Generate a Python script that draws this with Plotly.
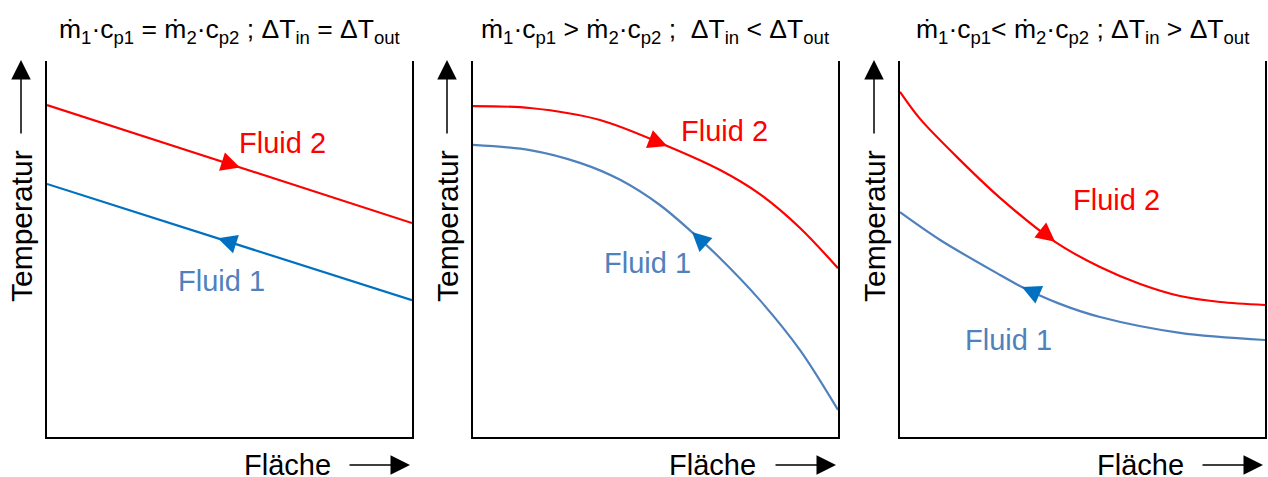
import numpy as np
import plotly.graph_objects as go

W, H = 1268, 477

# Fläche (x) und Temperatur (y), jeweils normiert auf 0..10
p1_x_hot = [0, 10]
p1_y_hot = [8.83, 5.69]
p1_x_cold = [0, 10]
p1_y_cold = [6.73, 3.64]

p2_x_hot = [0, 1.56, 3.48, 5.32, 6.77, 7.86, 8.96, 10]
p2_y_hot = [8.80, 8.75, 8.43, 7.74, 7.10, 6.46, 5.56, 4.49]
p2_x_cold = [0, 1.56, 2.93, 4.03, 5.12, 6.00, 6.68, 7.86, 8.96, 10]
p2_y_cold = [7.77, 7.63, 7.29, 6.84, 6.17, 5.45, 4.84, 3.64, 2.31, 0.72]

p3_x_hot = [0, 0.55, 1.64, 2.74, 4.25, 5.48, 6.58, 7.67, 8.77, 10]
p3_y_hot = [9.18, 8.46, 7.37, 6.36, 5.19, 4.52, 4.07, 3.75, 3.59, 3.51]
p3_x_cold = [0, 1.10, 2.74, 3.34, 4.38, 5.48, 7.67, 10]
p3_y_cold = [5.98, 5.24, 4.31, 3.99, 3.54, 3.19, 2.77, 2.58]

# Position der Richtungspfeile (Fläche-Wert) je Fluid
arrow_hot_x = [5.29, 5.32, 4.25]
arrow_cold_x = [4.68, 6.00, 3.34]

# Beschriftung der Fluide (Fläche, Temperatur)
label_hot = [(6.44, 7.82), (6.88, 8.14), (5.92, 6.30)]
label_cold = [(4.77, 4.15), (4.77, 4.63), (2.96, 2.58)]

titles = [
    "ṁ<sub>1</sub>·c<sub>p1</sub> = ṁ<sub>2</sub>·c<sub>p2</sub> ; ΔT<sub>in</sub> = ΔT<sub>out</sub>",
    "ṁ<sub>1</sub>·c<sub>p1</sub> > ṁ<sub>2</sub>·c<sub>p2</sub> ;  ΔT<sub>in</sub> < ΔT<sub>out</sub>",
    "ṁ<sub>1</sub>·c<sub>p1</sub>< ṁ<sub>2</sub>·c<sub>p2</sub> ; ΔT<sub>in</sub> > ΔT<sub>out</sub>",
]

RED = "#FF0000"
BLUE_DARK = "#0070C0"
BLUE = "#4F81BD"
FONT = "Liberation Sans, Arial, sans-serif"

# Pixel-Lage der drei Diagrammfelder (links, rechts), oben/unten gemeinsam
panels_px = [(47, 412), (473, 838), (900, 1265)]
top_px, bottom_px = 61, 437

hot = [(p1_x_hot, p1_y_hot), (p2_x_hot, p2_y_hot), (p3_x_hot, p3_y_hot)]
cold = [(p1_x_cold, p1_y_cold), (p2_x_cold, p2_y_cold), (p3_x_cold, p3_y_cold)]
cold_line_colors = [BLUE_DARK, BLUE, BLUE]

fig = go.Figure()
annotations = []

for i in range(3):
    sfx = "" if i == 0 else str(i + 1)
    xref, yref = "x" + sfx, "y" + sfx
    hx, hy = hot[i]
    cx, cy = cold[i]
    fig.add_trace(go.Scatter(x=hx, y=hy, mode="lines", xaxis=xref, yaxis=yref,
                             line=dict(color=RED, width=2.2, shape="spline", smoothing=0.9),
                             showlegend=False, hoverinfo="skip"))
    fig.add_trace(go.Scatter(x=cx, y=cy, mode="lines", xaxis=xref, yaxis=yref,
                             line=dict(color=cold_line_colors[i], width=2.2, shape="spline", smoothing=0.9),
                             showlegend=False, hoverinfo="skip"))

    # Fluid 2 strömt in Richtung wachsender Fläche, Fluid 1 entgegengesetzt
    ax_h = arrow_hot_x[i]
    tail_h = ax_h - 0.3
    annotations.append(dict(x=ax_h, y=float(np.interp(ax_h, hx, hy)),
                            ax=tail_h, ay=float(np.interp(tail_h, hx, hy)),
                            xref=xref, yref=yref, axref=xref, ayref=yref,
                            text="", showarrow=True, arrowhead=2, arrowsize=1.9,
                            arrowwidth=2, arrowcolor=RED, standoff=0))
    ax_c = arrow_cold_x[i]
    tail_c = ax_c + 0.3
    annotations.append(dict(x=ax_c, y=float(np.interp(ax_c, cx, cy)),
                            ax=tail_c, ay=float(np.interp(tail_c, cx, cy)),
                            xref=xref, yref=yref, axref=xref, ayref=yref,
                            text="", showarrow=True, arrowhead=2, arrowsize=1.9,
                            arrowwidth=2, arrowcolor=BLUE_DARK, standoff=0))

    annotations.append(dict(x=label_hot[i][0], y=label_hot[i][1], xref=xref, yref=yref,
                            text="Fluid 2", showarrow=False,
                            font=dict(family=FONT, size=29, color=RED)))
    annotations.append(dict(x=label_cold[i][0], y=label_cold[i][1], xref=xref, yref=yref,
                            text="Fluid 1", showarrow=False,
                            font=dict(family=FONT, size=29, color=BLUE)))

    left, right = panels_px[i]
    # Titel
    annotations.append(dict(x=(left + right) / 2 / W, y=(H - 31) / H,
                            xref="paper", yref="paper", text=titles[i], showarrow=False,
                            xanchor="center", yanchor="middle",
                            font=dict(family=FONT, size=26.5, color="black")))
    # Temperatur-Achse: Pfeil und Text
    tx = (left - 26) / W
    annotations.append(dict(x=tx, y=(H - 60) / H, xref="paper", yref="paper",
                            ax=0, ay=75, text="", showarrow=True, arrowhead=2,
                            arrowsize=2.6, arrowwidth=1.5, arrowcolor="black", standoff=0))
    annotations.append(dict(x=tx, y=(H - 226) / H, xref="paper", yref="paper",
                            text="Temperatur", textangle=-90, showarrow=False,
                            xanchor="center", yanchor="middle",
                            font=dict(family=FONT, size=30, color="black")))
    # Fläche-Achse: Text und Pfeil
    annotations.append(dict(x=(right - 2) / W, y=(H - 465) / H, xref="paper", yref="paper",
                            ax=-62, ay=0, text="", showarrow=True, arrowhead=2,
                            arrowsize=2.6, arrowwidth=1.5, arrowcolor="black", standoff=0))
    annotations.append(dict(x=(right - 125) / W, y=(H - 465) / H, xref="paper", yref="paper",
                            text="Fläche", showarrow=False, xanchor="center", yanchor="middle",
                            font=dict(family=FONT, size=29, color="black")))

axis_common = dict(range=[0, 10], showticklabels=False, ticks="", showgrid=False,
                   zeroline=False, showline=True, linecolor="black", linewidth=2,
                   fixedrange=True)

layout = dict(width=W, height=H, margin=dict(l=0, r=0, t=0, b=0),
              paper_bgcolor="white", plot_bgcolor="white",
              annotations=annotations, showlegend=False)

for i, (left, right) in enumerate(panels_px):
    sfx = "" if i == 0 else str(i + 1)
    layout["xaxis" + sfx] = dict(axis_common, domain=[left / W, right / W],
                                 anchor="y" + sfx, mirror=False)
    layout["yaxis" + sfx] = dict(axis_common, domain=[(H - bottom_px) / H, (H - top_px) / H],
                                 anchor="x" + sfx, mirror=True)

fig.update_layout(**layout)
fig.write_html("out.html")
